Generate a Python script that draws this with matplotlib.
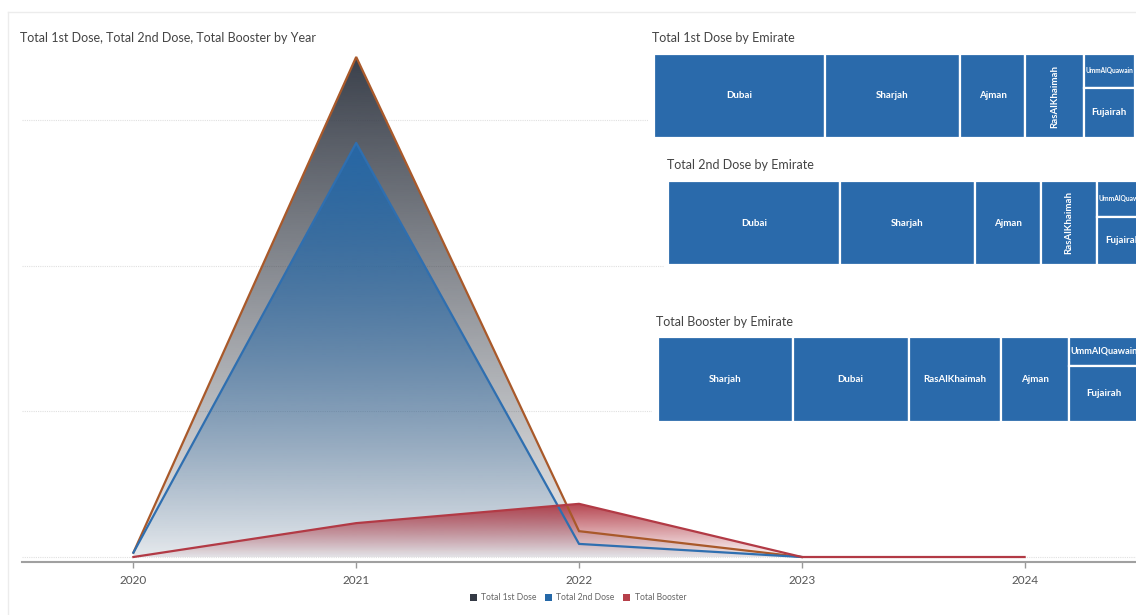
import numpy as np
import matplotlib
matplotlib.use("Agg")
import matplotlib.pyplot as plt
from matplotlib.patches import Rectangle, Patch
from matplotlib.lines import Line2D
from matplotlib.colors import to_rgb

plt.rcParams['font.family'] = ['Lato', 'DejaVu Sans']

# ---------------- data ----------------
years = [2020, 2021, 2022, 2023, 2024]
first_dose = [0.12, 13.73, 0.71, 0.0]          # millions, 2020-2023
second_dose = [0.12, 11.37, 0.36, 0.0]         # millions, 2020-2023
booster = [0.0, 0.93, 1.46, 0.0, 0.0]          # millions, 2020-2024

emirates_1st = ["Dubai", "Sharjah", "Ajman", "RasAlKhaimah", "UmmAlQuawain", "Fujairah"]
values_1st = [171, 135, 65, 58.5, 20.6, 30.9]
emirates_2nd = ["Dubai", "Sharjah", "Ajman", "RasAlKhaimah", "UmmAlQuawain", "Fujairah"]
values_2nd = [171.5, 135.5, 65.5, 56.5, 22, 30]
emirates_boost = ["Sharjah", "Dubai", "RasAlKhaimah", "Ajman", "UmmAlQuawain", "Fujairah"]
values_boost = [135, 115.5, 92, 68.5, 23.5, 46.5]

W, H = 1136, 615
fig = plt.figure(figsize=(W / 100, H / 100), dpi=100)
fig.patch.set_facecolor("white")


def fx(px):
    return px / W


def fy(py):
    return 1 - py / H


# card border
fig.add_artist(Line2D([fx(8), fx(8)], [fy(12), 0], color="#ececec", lw=1.0))
fig.add_artist(Line2D([fx(8), 1], [fy(12), fy(12)], color="#ececec", lw=1.0))

# ---------------- main area chart ----------------
ax = fig.add_axes([fx(22), fy(562), fx(1136 - 22), (562 - 30) / H])
ax.set_zorder(0)
ymin, ymax = -0.137, 14.47
xmin, xmax = 2019.5, 2024.5


def gradient_area(xs, ys, color, a_top, a_bot, z):
    poly = ax.fill_between(xs, ys, 0, facecolor="none", edgecolor="none", zorder=z)
    top = max(ys)
    n = 256
    arr = np.zeros((n, 1, 4))
    arr[:, 0, :3] = to_rgb(color)
    arr[:, 0, 3] = np.linspace(a_bot, a_top, n)
    im = ax.imshow(arr, extent=[xmin, xmax, 0, top], aspect="auto",
                   origin="lower", zorder=z, interpolation="bilinear")
    im.set_clip_path(poly.get_paths()[0], transform=ax.transData)


yrs4 = years[:4]
gradient_area(yrs4, first_dose, "#343a45", 0.97, 0.08, 1)
gradient_area(yrs4, second_dose, "#2568a8", 0.97, 0.05, 2)
gradient_area(years, booster, "#ad2f3b", 0.9, 0.03, 3)

ax.plot(yrs4, first_dose, color="#a9592a", lw=1.6, zorder=5, solid_joinstyle="miter")
ax.plot(yrs4, second_dose, color="#2f6fb0", lw=1.6, zorder=6)
ax.plot(years, booster, color="#b23a45", lw=1.6, zorder=7)

ax.set_xlim(xmin, xmax)
ax.set_ylim(ymin, ymax)
ax.set_yticks([0, 4, 8, 12])
ax.yaxis.grid(True, linestyle=(0, (1, 1)), color="#e0e0e0", lw=0.8)
ax.set_axisbelow(True)
ax.tick_params(axis="y", left=False, labelleft=False)
ax.set_xticks(years)
ax.set_xticklabels([str(y) for y in years])
ax.tick_params(axis="x", length=4, width=1, color="#999999", labelsize=8.5,
               labelcolor="#555555", pad=5)
for s in ["top", "right", "left"]:
    ax.spines[s].set_visible(False)
ax.spines["bottom"].set_color("#a0a0a0")
ax.spines["bottom"].set_linewidth(1.5)
ax.patch.set_alpha(0)

fig.text(fx(20), fy(38), "Total 1st Dose, Total 2nd Dose, Total Booster by Year",
         fontsize=9.0, color="#444444", va="center", ha="left")

handles = [Patch(facecolor="#343a45", label="Total 1st Dose"),
           Patch(facecolor="#2568a8", label="Total 2nd Dose"),
           Patch(facecolor="#b6404a", label="Total Booster")]
fig.legend(handles=handles, loc="center", bbox_to_anchor=(fx(578), fy(598)), ncol=3,
           frameon=False, fontsize=6.2, handlelength=0.8, handleheight=0.8,
           handletextpad=0.5, columnspacing=1.0, labelcolor="#666666")


# ---------------- treemaps ----------------
def treemap(names, vals, left, top, bottom, title, tx, ty, bg):
    # white panel background over main chart
    fig.add_artist(Rectangle((fx(bg[0]), fy(bg[3])), fx(bg[2] - bg[0]), (bg[3] - bg[1]) / H,
                             facecolor="white", edgecolor="none", zorder=1,
                             transform=fig.transFigure))
    fig.text(fx(tx), fy(ty), title, fontsize=9.0, color="#444444", va="center",
             ha="left", zorder=3)
    total = sum(vals)
    width_px = 481.0
    height_px = bottom - top
    tax = fig.add_axes([fx(left), fy(bottom), fx(width_px), height_px / H])
    tax.set_zorder(2)
    tax.set_xlim(0, width_px)
    tax.set_ylim(0, height_px)
    tax.axis("off")
    cells = []
    x = 0.0
    for n, v in zip(names[:4], vals[:4]):
        w = v / total * width_px
        cells.append((n, x, 0, w, height_px))
        x += w
    last = vals[4] + vals[5]
    w = last / total * width_px
    h_top = vals[4] / last * height_px
    cells.append((names[4], x, height_px - h_top, w, h_top))
    cells.append((names[5], x, 0, w, height_px - h_top))
    for n, cx, cy, cw, ch in cells:
        tax.add_patch(Rectangle((cx, cy), cw, ch, facecolor="#2a6aab",
                                edgecolor="white", lw=1.6, clip_on=False))
        fs = 7.0
        est = len(n) * fs * 0.58 * 100 / 72
        rot = 0
        if est > cw - 6:
            if ch > cw and est <= ch - 4:
                rot = 90
            else:
                fs = fs * (cw - 6) / est
        tax.text(cx + cw / 2, cy + ch / 2, n, color="white", fontsize=fs,
                 fontweight="bold", ha="center", va="center", rotation=rot,
                 clip_on=False)


treemap(emirates_1st, values_1st, 654, 54, 138, "Total 1st Dose by Emirate", 652, 38,
        (648, 24, 1136, 146))
treemap(emirates_2nd, values_2nd, 668, 181, 265, "Total 2nd Dose by Emirate", 667, 165,
        (664, 150, 1136, 272))
treemap(emirates_boost, values_boost, 658, 337, 422, "Total Booster by Emirate", 656, 322,
        (652, 306, 1136, 430))

fig.savefig("out.png", dpi=100)
